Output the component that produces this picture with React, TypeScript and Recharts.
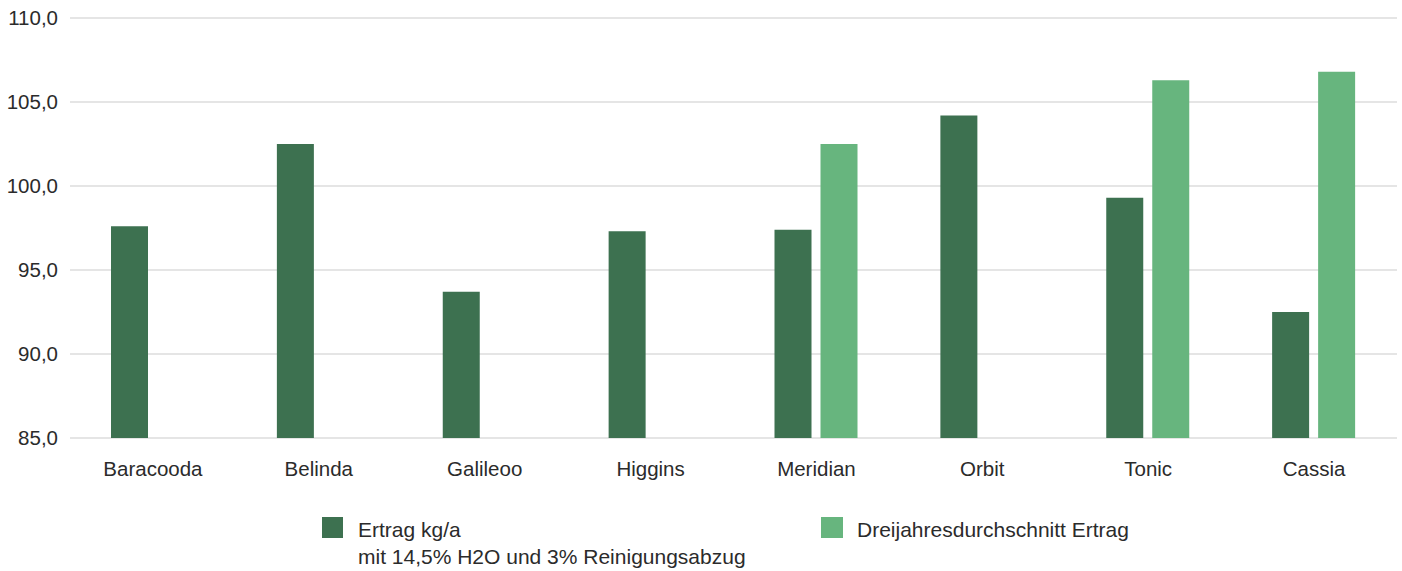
import { BarChart, Bar, XAxis, YAxis, CartesianGrid } from 'recharts'

const sorten = ['Baracooda', 'Belinda', 'Galileoo', 'Higgins', 'Meridian', 'Orbit', 'Tonic', 'Cassia']
const ertrag = [97.6, 102.5, 93.7, 97.3, 97.4, 104.2, 99.3, 92.5]
const dreijahres: (number | null)[] = [null, null, null, null, 102.5, null, 106.3, 106.8]
const yTicks = [85, 90, 95, 100, 105, 110]

const DUNKEL = '#3d7150'
const HELL = '#67b57e'
const FONT = '"Liberation Sans", Arial, sans-serif'
const TEXT = '#2b2b2b'

const data = sorten.map((name, i) => ({ name, ertrag: ertrag[i], dreijahres: dreijahres[i] }))

const fmt = (v: number) => v.toFixed(1).replace('.', ',')

export default function App() {
  return (
    <div style={{ position: 'absolute', left: 0, top: 0, width: 1402, height: 571, background: '#fff', fontFamily: FONT }}>
      <BarChart
        width={1402}
        height={500}
        data={data}
        margin={{ top: 18, right: 5, bottom: 2, left: 0 }}
        barGap={9}
        barSize={37}
      >
        <CartesianGrid vertical={false} stroke="#dddddd" strokeWidth={1.5} />
        <XAxis
          dataKey="name"
          tick={{ fill: TEXT, fontSize: 20.5, fontFamily: FONT }}
          tickLine={false}
          axisLine={false}
          tickMargin={17}
          height={60}
        />
        <YAxis
          domain={[85, 110]}
          ticks={yTicks}
          tickFormatter={fmt}
          tick={{ fill: TEXT, fontSize: 20.5, fontFamily: FONT }}
          tickLine={false}
          axisLine={false}
          tickMargin={6}
          width={70}
          allowDataOverflow
        />
        <Bar dataKey="ertrag" fill={DUNKEL} isAnimationActive={false} />
        <Bar dataKey="dreijahres" fill={HELL} isAnimationActive={false} />
      </BarChart>
      <div style={{ position: 'absolute', left: 322, top: 516, display: 'flex', alignItems: 'flex-start' }}>
        <div style={{ width: 21, height: 21, background: DUNKEL, marginTop: 1 }} />
        <div style={{ marginLeft: 15, fontSize: 21, color: TEXT, lineHeight: '27px', marginTop: 0 }}>
          Ertrag kg/a
          <br />
          mit 14,5% H2O und 3% Reinigungsabzug
        </div>
      </div>
      <div style={{ position: 'absolute', left: 821, top: 516, display: 'flex', alignItems: 'flex-start' }}>
        <div style={{ width: 22, height: 21, background: HELL, marginTop: 1 }} />
        <div style={{ marginLeft: 14, fontSize: 21, color: TEXT, lineHeight: '27px', marginTop: 0 }}>
          Dreijahresdurchschnitt Ertrag
        </div>
      </div>
    </div>
  )
}
